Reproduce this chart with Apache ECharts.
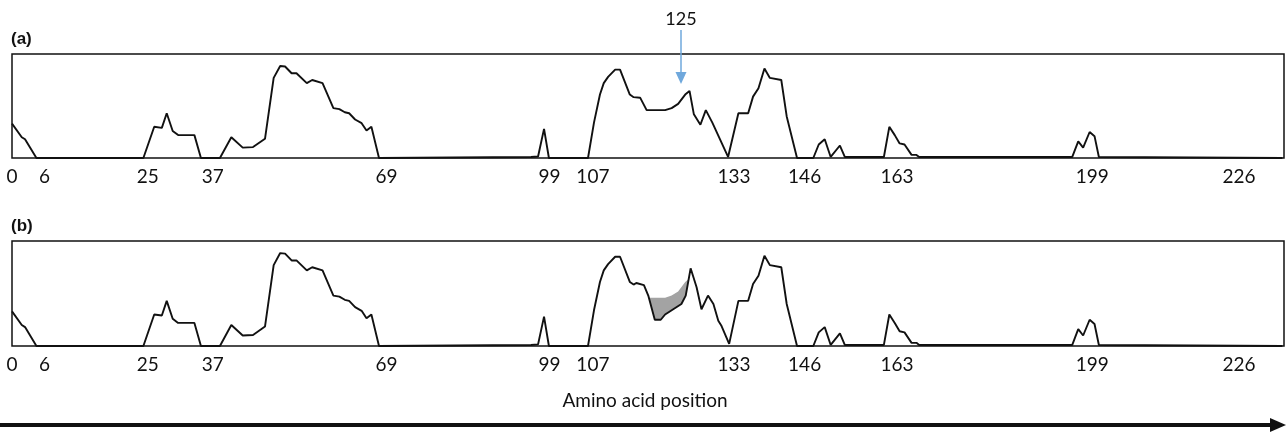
<!DOCTYPE html>
<html>
<head>
<meta charset="utf-8">
<script src="https://cdn.jsdelivr.net/npm/echarts@6/dist/echarts.min.js"></script>
<style>
  html, body { margin: 0; padding: 0; background: #fff; }
  #chart { width: 1288px; height: 435px; }
</style>
</head>
<body>
<div id="chart"></div>
<script>
const positionsA = [0, 1.8, 2.4, 4.5, 24.2, 26.2, 27.6, 28.5, 29.6, 30.6, 33.6, 34.8,
  38.3, 40.4, 42.5, 44.4, 46.6, 48.2, 49.4, 50.3, 51.5, 52.4, 54.3, 55.3, 57.2, 59.2,
  60.3, 61.3, 62.1, 63.2, 64.4, 65.3, 66.2, 67.6, 95.6, 96.9, 98.0, 98.9,
  106.1, 107.2, 108.3, 109.0, 109.8, 111.1, 112.0, 113.8, 114.5, 115.7, 116.9, 118.1,
  119.0, 120.3, 121.5, 122.7, 124.0, 124.8, 125.6, 126.8, 127.8, 129.0, 131.9, 133.8,
  135.6, 136.5, 137.5, 138.6, 139.6, 141.7, 142.7, 144.6, 147.6, 148.6, 149.7, 150.8,
  152.5, 153.4, 160.6, 161.6, 162.6, 163.5, 164.4, 165.7, 166.6, 167.1,
  195.3, 196.4, 197.3, 198.5, 199.4, 200.2, 234];
const scoreA = [0.33, 0.20, 0.18, 0, 0, 0.30, 0.29, 0.43, 0.26, 0.22, 0.22, 0,
  0, 0.20, 0.10, 0.105, 0.185, 0.77, 0.885, 0.88, 0.815, 0.815, 0.72, 0.75, 0.72, 0.48,
  0.47, 0.44, 0.43, 0.37, 0.335, 0.265, 0.30, 0, 0.01, 0.015, 0.28, 0,
  0, 0.34, 0.61, 0.72, 0.78, 0.85, 0.85, 0.61, 0.585, 0.58, 0.46, 0.46,
  0.46, 0.46, 0.48, 0.52, 0.61, 0.645, 0.42, 0.32, 0.46, 0.34, 0.01, 0.43,
  0.43, 0.59, 0.67, 0.86, 0.77, 0.75, 0.40, 0, 0, 0.13, 0.18, 0.01,
  0.12, 0.01, 0.01, 0.30, 0.22, 0.14, 0.13, 0.03, 0.03, 0.01,
  0.01, 0.16, 0.10, 0.25, 0.21, 0.01, 0];

// panel (b): the region around 125 is different
const mutRange = [114.9, 132.2];
const mutPositions = [115.0, 116.4, 117.2, 118.4, 119.5, 120.3, 121.8, 123.3, 124.1, 125.0,
  126.1, 127.0, 128.2, 129.2, 130.1, 130.7, 132.1];
const mutScore = [0.60, 0.58, 0.48, 0.25, 0.25, 0.30, 0.35, 0.40, 0.48, 0.74,
  0.56, 0.35, 0.48, 0.40, 0.24, 0.19, 0.02];
const shadeRange = [116.4, 125.0];

const tickLabels = [0, 6, 25, 37, 69, 99, 107, 133, 146, 163, 199, 226];

const lineA = positionsA.map((p, i) => [p, scoreA[i]]);
const lineB = lineA.filter(d => d[0] < mutRange[0] || d[0] > mutRange[1])
  .concat(mutPositions.map((p, i) => [p, mutScore[i]]))
  .sort((a, b) => a[0] - b[0]);
const shadeTop = lineA.filter(d => d[0] >= shadeRange[0] && d[0] <= shadeRange[1]);
const shadeBottom = lineB.filter(d => d[0] >= shadeRange[0] && d[0] <= shadeRange[1]);

const font = 'Lato';

function xAxis(idx) {
  return {
    gridIndex: idx, type: 'value', min: 0, max: 234.3,
    axisLine: { show: false }, axisTick: { show: false }, splitLine: { show: false },
    axisLabel: {
      customValues: tickLabels, margin: 9, fontSize: 19,
      color: '#111', fontFamily: font
    }
  };
}
function yAxis(idx) {
  return { gridIndex: idx, type: 'value', min: 0, max: 1, show: false };
}
const lineStyle = { color: '#111', width: 1.9 };

const chart = echarts.init(document.getElementById('chart'));
chart.setOption({
  animation: false,
  grid: [
    { left: 12, right: 4, top: 54, height: 104, show: true, borderColor: '#111', borderWidth: 1.5 },
    { left: 12, right: 4, top: 241, height: 105, show: true, borderColor: '#111', borderWidth: 1.5 }
  ],
  xAxis: [xAxis(0), xAxis(1)],
  yAxis: [yAxis(0), yAxis(1)],
  series: [
    { type: 'line', xAxisIndex: 0, yAxisIndex: 0, data: lineA, showSymbol: false,
      lineStyle: lineStyle, z: 3 },
    { type: 'line', xAxisIndex: 1, yAxisIndex: 1, data: shadeTop, showSymbol: false,
      lineStyle: { width: 0 }, areaStyle: { color: '#a3a3a3', opacity: 1, origin: 0.2 }, z: 1 },
    { type: 'line', xAxisIndex: 1, yAxisIndex: 1, data: shadeBottom, showSymbol: false,
      lineStyle: { width: 0 }, areaStyle: { color: '#fff', opacity: 1, origin: 0.2 }, z: 2 },
    { type: 'line', xAxisIndex: 1, yAxisIndex: 1, data: lineB, showSymbol: false,
      lineStyle: lineStyle, z: 3 }
  ],
  graphic: [
    { type: 'text', left: 11, top: 31, style: { text: '(a)', fontSize: 17, fontWeight: 'bold', fontFamily: 'Liberation Sans', fill: '#111' } },
    { type: 'text', left: 11, top: 218, style: { text: '(b)', fontSize: 17, fontWeight: 'bold', fontFamily: 'Liberation Sans', fill: '#111' } },
    { type: 'text', x: 681, y: 19, style: { text: '125', fontSize: 18, fontFamily: font, fill: '#111', align: 'center', verticalAlign: 'middle' } },
    { type: 'line', shape: { x1: 681, y1: 30, x2: 681, y2: 74 }, style: { stroke: '#6fa8dc', lineWidth: 1.5 } },
    { type: 'polygon', shape: { points: [[675.5, 72], [686.5, 72], [681, 84]] }, style: { fill: '#6fa8dc' } },
    { type: 'text', x: 645, y: 401, style: { text: 'Amino acid position', fontSize: 19, fontFamily: font, fill: '#111', align: 'center', verticalAlign: 'middle' } },
    { type: 'line', shape: { x1: 0, y1: 425, x2: 1276, y2: 425 }, style: { stroke: '#111', lineWidth: 4 } },
    { type: 'polygon', shape: { points: [[1270, 418], [1286, 425], [1270, 432]] }, style: { fill: '#111' } }
  ]
});
</script>
</body>
</html>
